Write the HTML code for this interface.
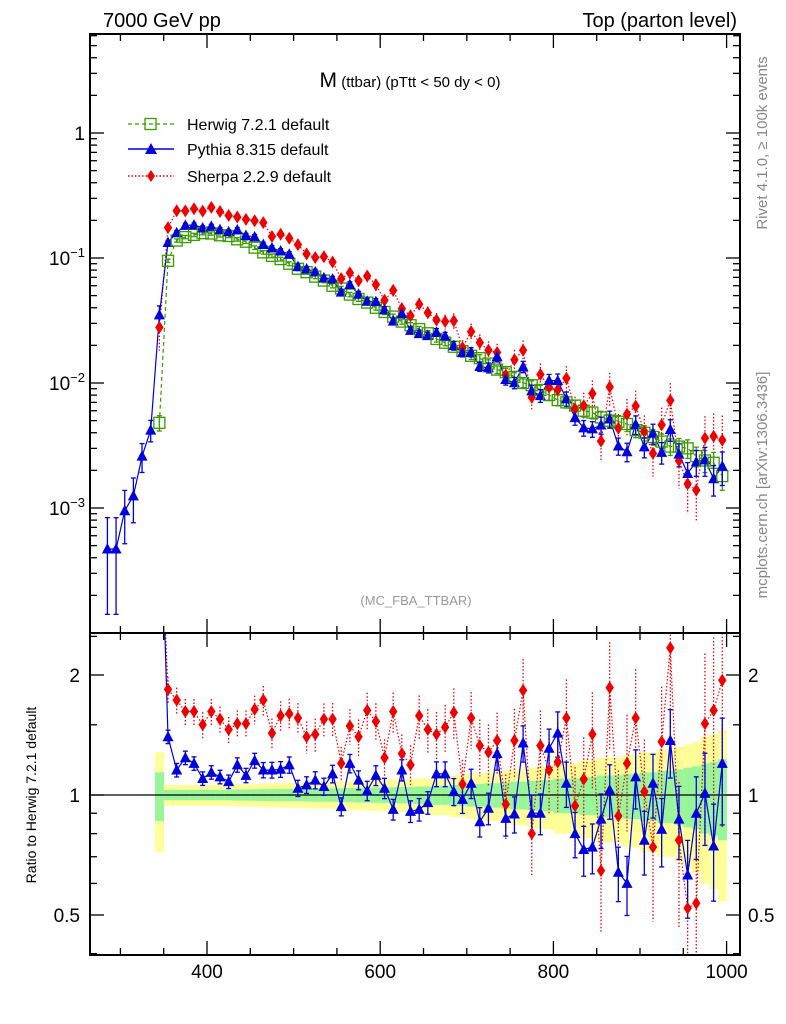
<!DOCTYPE html>
<html><head><meta charset="utf-8"><style>
html,body{margin:0;padding:0;background:#fff;width:786px;height:1024px;overflow:hidden}
svg{display:block;font-family:"Liberation Sans",Arial,sans-serif}
</style></head><body>
<svg id="chart" width="786" height="1024" viewBox="0 0 786 1024" xmlns="http://www.w3.org/2000/svg">
<defs>
<clipPath id="clipMain"><rect x="90" y="34" width="650" height="599"/></clipPath>
<clipPath id="clipRatio"><rect x="90" y="633" width="650" height="322"/></clipPath>
</defs>
<text x="103" y="27" font-size="20">7000 GeV pp</text>
<text x="737" y="27" font-size="20" text-anchor="end">Top (parton level)</text>
<text x="410" y="87" text-anchor="middle" font-size="15"><tspan font-size="21">M</tspan> (ttbar) (pTtt &lt; 50 dy &lt; 0)</text>
<text transform="translate(767,143) rotate(-90)" text-anchor="middle" font-size="15" fill="#888">Rivet 4.1.0, ≥ 100k events</text>
<text transform="translate(767,485) rotate(-90)" text-anchor="middle" font-size="15" fill="#888">mcplots.cern.ch [arXiv:1306.3436]</text>
<text x="416" y="605" text-anchor="middle" font-size="13" fill="#999">(MC_FBA_TTBAR)</text>
<text transform="translate(36,795) rotate(-90)" text-anchor="middle" font-size="14">Ratio to Herwig 7.2.1 default</text>
<g id="bandLayer"></g>
<g id="ratioLayer" clip-path="url(#clipRatio)"></g>
<g id="mainLayer" clip-path="url(#clipMain)"></g>
<g id="axisLayer"></g>
<g id="legend">
 <g>
  <line x1="128" y1="124" x2="174" y2="124" stroke="#3a9a00" stroke-width="1.2" stroke-dasharray="4,3"/>
  <rect x="145" y="118.5" width="11" height="11" fill="none" stroke="#3a9a00" stroke-width="1.3"/>
  <text x="187" y="130" font-size="16">Herwig 7.2.1 default</text>
 </g>
 <g>
  <line x1="128" y1="149" x2="174" y2="149" stroke="#0000dd" stroke-width="1.4"/>
  <polygon points="151,143 157,154 145,154" fill="#0000dd"/>
  <text x="187" y="155" font-size="16">Pythia 8.315 default</text>
 </g>
 <g>
  <line x1="128" y1="176" x2="174" y2="176" stroke="#ee0000" stroke-width="1.4" stroke-dasharray="1.5,2"/>
  <polygon points="151,170 155,176 151,182 147,176" fill="#ee0000"/>
  <text x="187" y="182" font-size="16">Sherpa 2.2.9 default</text>
 </g>
</g>
</svg>
<script>
const binCenters=[285,295,305,315,325,335,345,355,365,375,385,395,405,415,425,435,445,455,465,475,485,495,505,515,525,535,545,555,565,575,585,595,605,615,625,635,645,655,665,675,685,695,705,715,725,735,745,755,765,775,785,795,805,815,825,835,845,855,865,875,885,895,905,915,925,935,945,955,965,975,985,995];
const herwigValues=[null,null,null,null,null,null,0.0048,0.095,0.138,0.147,0.153,0.158,0.157,0.152,0.150,0.141,0.135,0.121,0.111,0.104,0.098,0.090,0.082,0.077,0.071,0.066,0.060,0.057,0.051,0.047,0.044,0.040,0.037,0.034,0.031,0.029,0.027,0.025,0.0225,0.021,0.0195,0.018,0.0165,0.0158,0.0143,0.0128,0.0122,0.0112,0.0100,0.0096,0.0088,0.0080,0.0073,0.0070,0.0066,0.0060,0.0058,0.0053,0.0050,0.0049,0.0047,0.0042,0.0040,0.0037,0.0034,0.0031,0.0031,0.0030,0.0026,0.0024,0.0023,0.0018];
const pythiaNoRefValues=[0.00047,0.00047,0.00095,0.00125,0.0026,0.0042,0.035];
const pythiaRatio=[null,null,null,null,null,null,7.3,1.40,1.155,1.24,1.20,1.10,1.14,1.11,1.08,1.19,1.12,1.22,1.155,1.155,1.16,1.19,1.04,1.06,1.09,1.05,1.13,0.935,1.20,1.09,1.025,1.12,1.04,0.92,1.155,0.91,0.92,0.957,1.13,1.13,1.02,0.975,1.07,0.857,0.926,1.27,0.874,0.896,1.35,0.90,0.90,1.31,1.43,1.07,0.80,0.73,0.74,0.87,1.03,0.64,0.60,1.11,0.77,1.07,0.82,1.37,0.87,0.63,0.90,1.01,0.745,1.20];
const sherpaRatio=[null,null,null,null,null,null,5.8,1.84,1.73,1.62,1.62,1.50,1.62,1.55,1.46,1.51,1.51,1.64,1.73,1.43,1.58,1.60,1.56,1.40,1.42,1.55,1.55,1.20,1.49,1.40,1.63,1.53,1.24,1.62,1.27,1.19,1.58,1.46,1.42,1.48,1.61,1.065,1.56,1.33,1.28,1.37,0.948,1.37,1.83,0.80,1.33,1.155,1.21,1.56,0.94,1.095,1.42,0.646,1.86,0.886,1.20,1.56,1.02,0.74,1.36,2.34,0.77,0.52,0.535,1.51,1.63,1.94];
const relErr=[0.6,0.6,0.35,0.3,0.2,0.15,0.14,0.03,0.03,0.03,0.03,0.03,0.03,0.03,0.03,0.032,0.032,0.033,0.034,0.035,0.035,0.036,0.036,0.037,0.038,0.038,0.039,0.04,0.041,0.042,0.043,0.044,0.045,0.046,0.047,0.048,0.05,0.05,0.055,0.055,0.06,0.06,0.065,0.065,0.07,0.07,0.075,0.08,0.08,0.085,0.09,0.09,0.1,0.1,0.1,0.11,0.11,0.12,0.12,0.12,0.13,0.13,0.14,0.14,0.15,0.15,0.16,0.17,0.18,0.2,0.21,0.23];
const xTickLabels=[400,600,800,1000];
const mainTickExps=[0,-1,-2,-3];
const ratioTickLabels=[2,1,0.5];

const NS='http://www.w3.org/2000/svg';
const X=g=>207+(g-400)*0.866;
const YM=v=>133-125*Math.log10(v);
const YR=r=>795-120*Math.log2(r);
function el(tag,attrs,parent){const e=document.createElementNS(NS,tag);for(const k in attrs)e.setAttribute(k,attrs[k]);parent.appendChild(e);return e;}
const band=document.getElementById('bandLayer'),ratio=document.getElementById('ratioLayer'),main=document.getElementById('mainLayer'),axis=document.getElementById('axisLayer');
const GREEN='#3a9a00',BLUE='#0000dd',RED='#ee0000';

// values
const pythiaVals=binCenters.map((c,i)=>herwigValues[i]==null?pythiaNoRefValues[i]:herwigValues[i]*pythiaRatio[i]);
const sherpaVals=binCenters.map((c,i)=>herwigValues[i]==null?null:herwigValues[i]*sherpaRatio[i]);

// ratio band
binCenters.forEach((c,i)=>{
 if(herwigValues[i]==null)return;
 const e=relErr[i];
 const y=el('rect',{x:X(c-5),y:YR(1+2*e),width:X(c+5)-X(c-5)+0.3,height:YR(Math.max(1-2*e,0.05))-YR(1+2*e),fill:'#ffff99'},band);
 
 
 const g=el('rect',{x:X(c-5),y:YR(1+e),width:X(c+5)-X(c-5)+0.3,height:YR(1-e)-YR(1+e),fill:'#99f599'},band);
 
 
});
const one=el('line',{x1:90,x2:740,y1:YR(1),y2:YR(1),stroke:'#000','stroke-width':1.2},band);



function tri(parent,x,y,col,name){const p=el('polygon',{points:`${x},${y-6} ${x+5.5},${y+4.5} ${x-5.5},${y+4.5}`,fill:col},parent);}
function dia(parent,x,y,col,name){const p=el('polygon',{points:`${x},${y-6.5} ${x+4.2},${y} ${x},${y+6.5} ${x-4.2},${y}`,fill:col},parent);}
function sq(parent,x,y,name){const p=el('rect',{x:x-5.5,y:y-5.5,width:11,height:11,fill:'none',stroke:GREEN,'stroke-width':1.3},parent);}
function ebar(parent,x,y1,y2,col,dash){const a={x1:x,x2:x,y1:y1,y2:y2,stroke:col,'stroke-width':1.3};if(dash)a['stroke-dasharray']=dash;el('line',a,parent);
 if(!dash){el('line',{x1:x-2.5,x2:x+2.5,y1:y1,y2:y1,stroke:col,'stroke-width':1.3},parent);el('line',{x1:x-2.5,x2:x+2.5,y1:y2,y2:y2,stroke:col,'stroke-width':1.3},parent);}}

// main plot lines
function poly(parent,vals,fy,col,dash,name){const pts=[];binCenters.forEach((c,i)=>{if(vals[i]!=null)pts.push(X(c).toFixed(1)+','+fy(vals[i]).toFixed(1));});
 const a={points:pts.join(' '),fill:'none',stroke:col,'stroke-width':1.2};if(dash)a['stroke-dasharray']=dash;const p=el('polyline',a,parent);}
poly(main,herwigValues,YM,GREEN,'4,3','herwig-line');
poly(main,sherpaVals,YM,RED,'1.5,2','sherpa-line');
poly(main,pythiaVals,YM,BLUE,null,'pythia-line');
binCenters.forEach((c,i)=>{
 const x=X(c);
 if(sherpaVals[i]!=null){const e=relErr[i]*2.5;ebar(main,x,YM(sherpaVals[i]*(1+e)),YM(sherpaVals[i]*Math.max(1-e,0.3)),RED,'1.5,2');}
 if(herwigValues[i]!=null){const e=relErr[i];ebar(main,x,YM(herwigValues[i]*(1+e)),YM(herwigValues[i]*(1-e)),GREEN,null);sq(main,x,YM(herwigValues[i]),'herwig-point');}
 const ep=relErr[i]*1.3;ebar(main,x,YM(pythiaVals[i]*(1+ep)),YM(pythiaVals[i]*Math.max(1-ep,0.3)),BLUE,null);
 if(sherpaVals[i]!=null)dia(main,x,YM(sherpaVals[i]),RED,'sherpa-point');
 tri(main,x,YM(pythiaVals[i]),BLUE,'pythia-point');
});

// ratio plot
poly(ratio,sherpaRatio,YR,RED,'1.5,2','sherpa-ratio-line');
poly(ratio,pythiaRatio,YR,BLUE,null,'pythia-ratio-line');
binCenters.forEach((c,i)=>{
 if(pythiaRatio[i]==null)return;const x=X(c);
 const es=relErr[i]*2.5*sherpaRatio[i];ebar(ratio,x,YR(sherpaRatio[i]+es),YR(Math.max(sherpaRatio[i]-es,0.3)),RED,'1.5,2');
 const ep=relErr[i]*1.3*pythiaRatio[i];ebar(ratio,x,YR(pythiaRatio[i]+ep),YR(pythiaRatio[i]-ep),BLUE,null);
 dia(ratio,x,YR(sherpaRatio[i]),RED,'sherpa-ratio-point');
 tri(ratio,x,YR(pythiaRatio[i]),BLUE,'pythia-ratio-point');
});

// frames
[[34,633],[633,955]].forEach(([t,b],k)=>{const r=el('rect',{x:90,y:t,width:650,height:b-t,fill:'none',stroke:'#000','stroke-width':2},axis);
 
 for(let g=300;g<=1000;g+=50){const x=X(g);const L=(g%200===0)?14:7;
  el('line',{x1:x,x2:x,y1:t,y2:t+L,stroke:'#000','stroke-width':1.3},axis);
  el('line',{x1:x,x2:x,y1:b,y2:b-L,stroke:'#000','stroke-width':1.3},axis);}
});
xTickLabels.forEach(v=>{const t=el('text',{x:X(v),y:978,'text-anchor':'middle','font-size':19},axis);t.textContent=v;});
// main y ticks
for(let e=-4;e<=0;e++){for(let m=1;m<10;m++){const v=m*Math.pow(10,e);const y=YM(v);if(y<34||y>633)continue;const L=m===1?14:7;
 el('line',{x1:90,x2:90+L,y1:y,y2:y,stroke:'#000','stroke-width':1.3},axis);el('line',{x1:740,x2:740-L,y1:y,y2:y,stroke:'#000','stroke-width':1.3},axis);}}
mainTickExps.forEach(e=>{const y=YM(Math.pow(10,e))+7;const t=el('text',{x:85,y:y,'text-anchor':'end','font-size':19},axis);
 
 if(e===0)t.textContent='1';else{t.textContent='10';const s=el('tspan',{dy:-8,'font-size':13},t);s.textContent='−'+(-e);}});
// ratio y ticks
[0.4,0.5,0.6,0.7,0.8,0.9,1,1.5,2,2.5].forEach(v=>{const y=YR(v);if(y<633||y>955)return;const L=[0.5,1,2].includes(v)?14:7;
 el('line',{x1:90,x2:90+L,y1:y,y2:y,stroke:'#000','stroke-width':1.3},axis);el('line',{x1:740,x2:740-L,y1:y,y2:y,stroke:'#000','stroke-width':1.3},axis);});
ratioTickLabels.forEach(v=>{const y=YR(v)+7;
 const a=el('text',{x:80,y:y,'text-anchor':'end','font-size':19},axis);a.textContent=v;
 const b=el('text',{x:748,y:y,'font-size':19},axis);b.textContent=v;});
</script>
</body></html>
